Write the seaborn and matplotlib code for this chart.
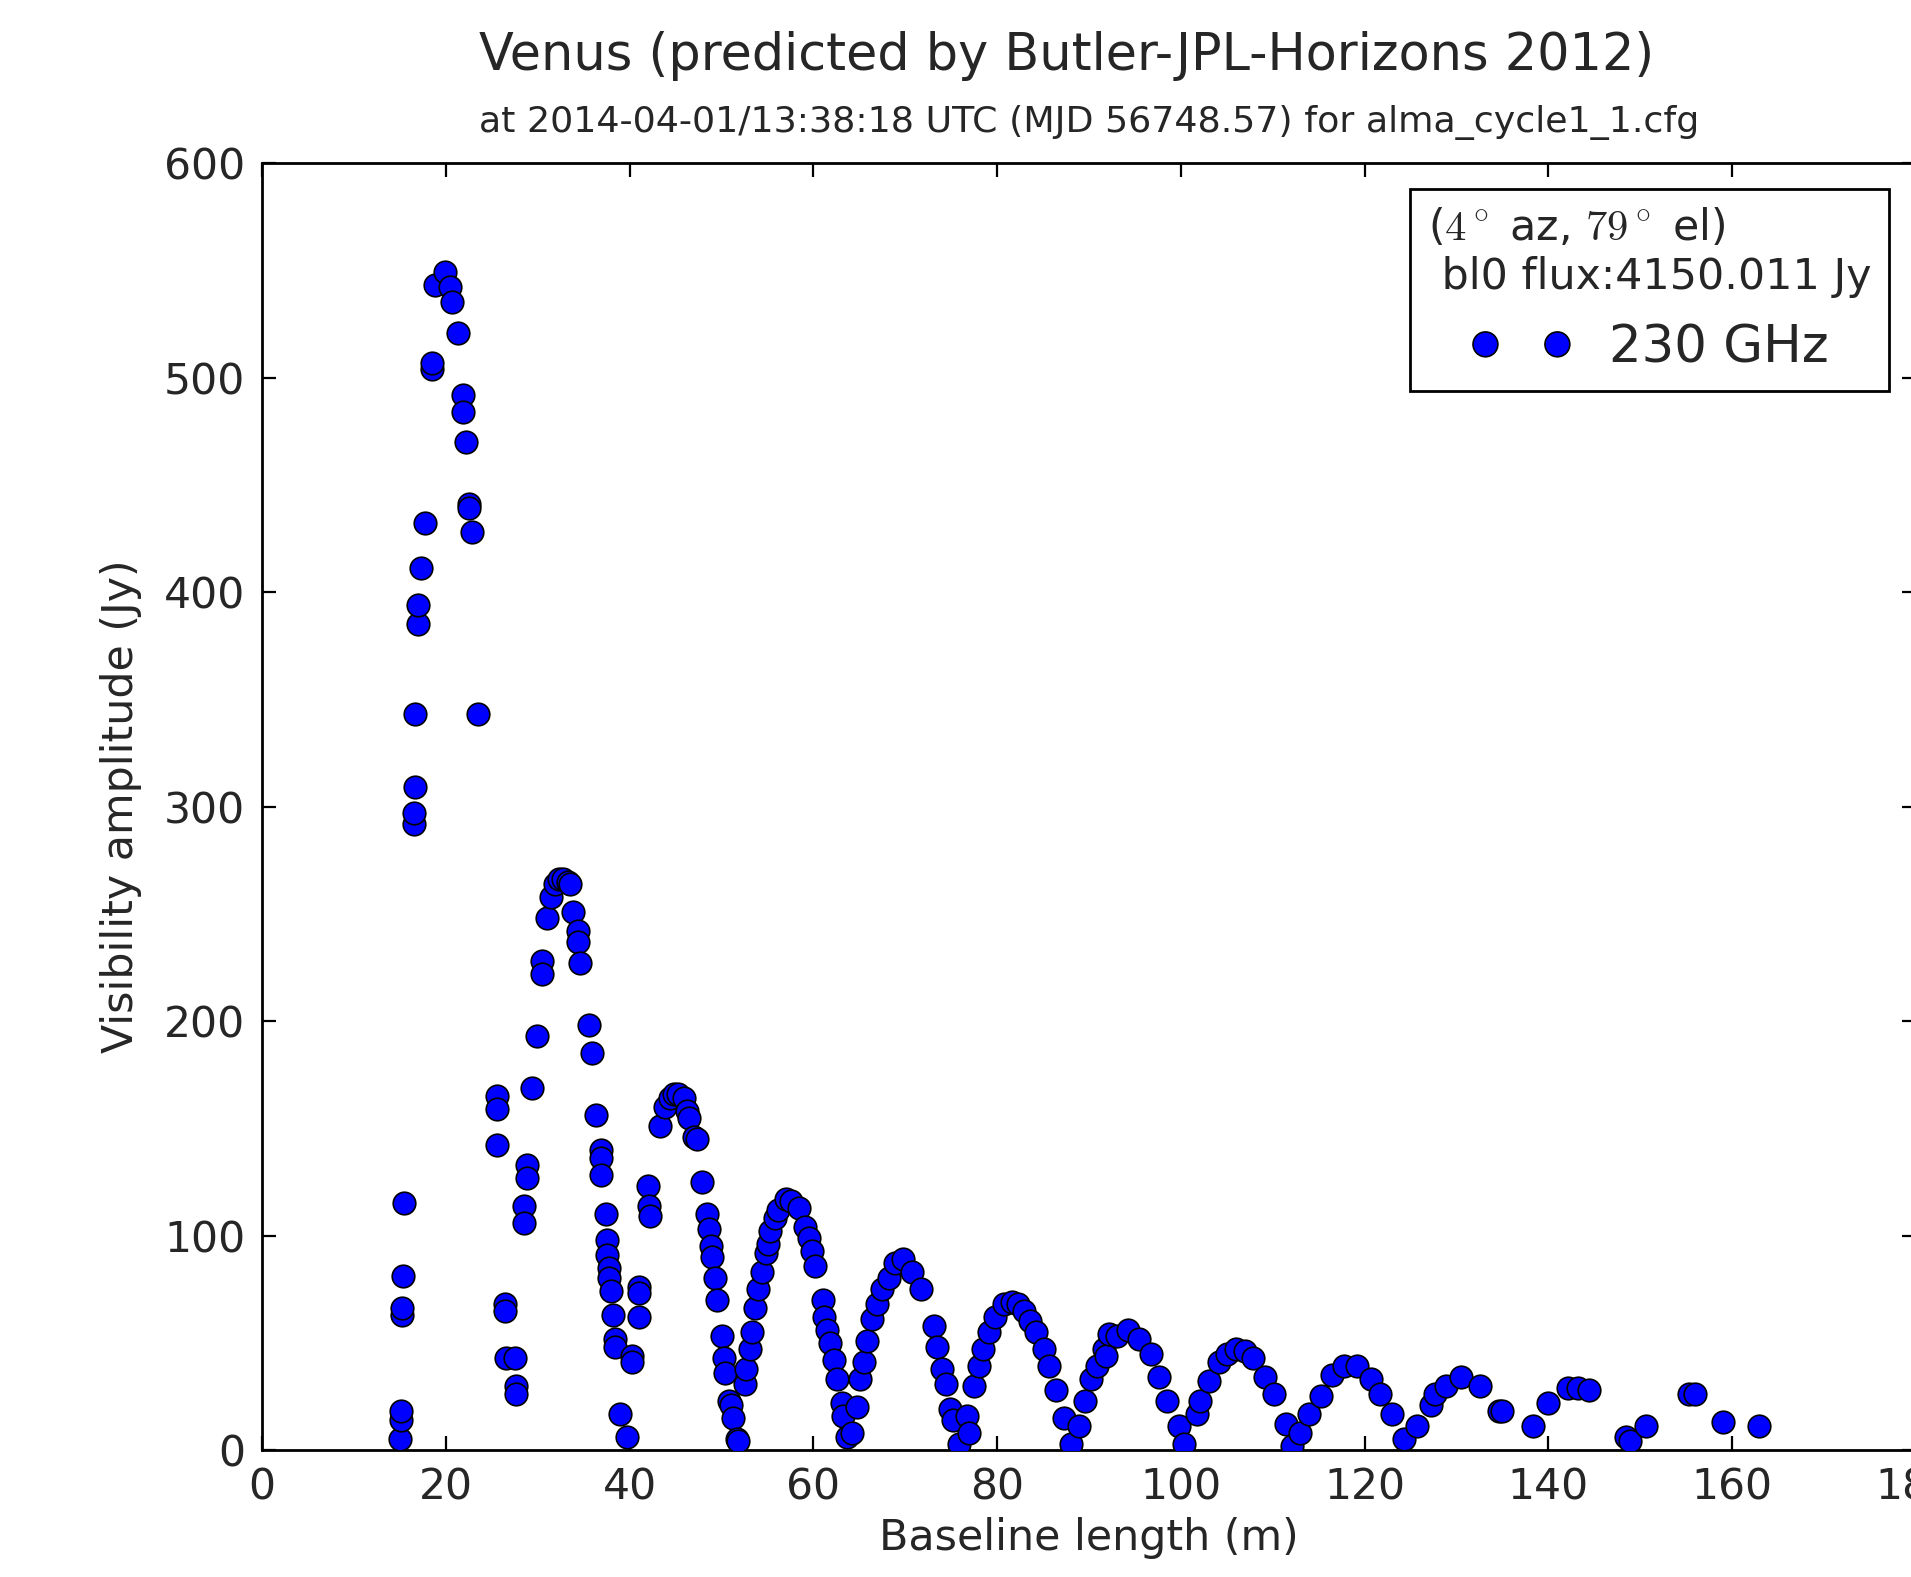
import numpy as np
import pandas as pd
import matplotlib
matplotlib.use("Agg")
import matplotlib.pyplot as plt
import seaborn as sns

# baseline length (m) and visibility amplitude (Jy)
baseline_m = [
    15.0, 15.1, 15.1, 15.2, 15.2, 15.3, 15.4,
    16.5, 16.5, 16.6, 16.7, 17.0, 17.0, 17.3, 17.7,
    18.5, 18.5, 18.8, 19.9, 20.5, 20.7, 21.3, 21.9, 21.9, 22.2, 22.5, 22.5, 22.8, 23.5,
    25.6, 25.6, 25.6, 26.5, 26.5, 26.6, 27.5, 27.6, 27.6,
    28.5, 28.5, 28.8, 28.8, 29.4, 29.9,
    30.5, 30.5, 31.0, 31.4, 31.9, 32.3, 32.8, 33.3, 33.5, 33.9, 34.4, 34.4, 34.6, 35.6, 35.9,
    36.4, 36.9, 36.9, 36.9, 37.4, 37.5, 37.6, 37.8, 37.8, 38.0, 38.2, 38.4, 38.4, 39.0, 39.7,
    40.3, 40.3, 41.0, 41.0, 41.0, 42.0, 42.1, 42.2,
    43.3, 43.9, 44.4, 44.8, 45.3, 45.9, 46.2, 46.5, 47.0, 47.3, 47.9, 48.4, 48.6, 48.9,
    49.0, 49.3, 49.5, 50.1, 50.3, 50.4, 50.8, 51.0, 51.3, 51.7, 51.8,
    52.6, 52.7, 53.1, 53.3, 53.7, 54.0, 54.4, 54.8, 55.1, 55.3, 55.8, 56.2, 57.0, 57.6,
    58.4, 59.1, 59.5, 59.9, 60.2,
    61.1, 61.2, 61.5, 61.8, 62.2, 62.6, 63.1, 63.2, 63.7,
    64.2, 64.8, 65.1, 65.5, 65.8, 66.4, 66.9, 67.5, 68.2, 68.9, 69.8, 70.7, 71.7,
    73.1, 73.5, 74.0, 74.4, 74.9, 75.2, 75.8,
    76.7, 76.9, 77.5, 78.0, 78.5, 79.1, 79.8, 80.7, 81.6, 82.3, 82.9, 83.6, 84.2, 85.1,
    85.6, 86.4, 87.3, 88.0,
    88.9, 89.6, 90.2, 90.9, 91.6, 91.8, 92.2, 93.1, 94.2, 95.4, 96.7, 97.6, 98.5, 99.8, 100.3,
    101.8, 102.1, 103.1, 104.1, 105.0, 106.0, 107.0, 107.9, 109.2, 110.1, 111.4, 112.1,
    113.0, 113.9, 115.2, 116.5, 117.8, 119.2, 120.7, 121.7, 123.0, 124.3,
    125.7,
    127.2, 127.7, 128.8, 130.5, 132.5, 134.6, 135.0,
    138.3, 139.9, 142.1, 143.2, 144.4, 148.4, 148.9, 150.6, 155.3, 155.9, 159.0, 162.9,
]
amplitude_jy = [
    5, 14, 18, 63, 66, 81, 115,
    292, 297, 309, 343, 385, 394, 411, 432,
    504, 507, 543, 549, 542, 535, 521, 492, 484, 470, 441, 439, 428, 343,
    165, 159, 142, 68, 65, 43, 43, 30, 26,
    114, 106, 133, 127, 169, 193,
    228, 222, 248, 258, 264, 266, 266, 265, 264, 251, 242, 237, 227, 198, 185,
    156, 140, 136, 128, 110, 98, 91, 85, 80, 74, 63, 52, 48, 17, 6,
    44, 41, 76, 73, 62, 123, 114, 109,
    151, 160, 164, 166, 166, 164, 158, 155, 146, 145, 125, 110, 103, 95,
    90, 80, 70, 53, 43, 36, 23, 21, 15, 5, 4,
    31, 38, 47, 55, 66, 75, 83, 92, 96, 102, 108, 112, 117, 116,
    113, 104, 99, 93, 86,
    70, 62, 56, 50, 42, 33, 22, 16, 6,
    8, 20, 33, 41, 51, 61, 68, 75, 80, 87, 89, 83, 75,
    58, 48, 38, 31, 19, 14, 3,
    16, 8, 30, 39, 47, 55, 62, 68, 69, 68, 65, 60, 55, 47,
    39, 28, 15, 3,
    11, 23, 33, 39, 47, 44, 54, 53, 56, 52, 45, 34, 23, 11, 3,
    17, 23, 32, 41, 45, 47, 46, 43, 34, 26, 12, 2,
    8, 17, 25, 35, 39, 39, 33, 26, 17, 5,
    11,
    21, 26, 30, 34, 30, 18, 18,
    11, 22, 29, 29, 28, 6, 4, 11, 26, 26, 13, 11,
]

title = "Venus (predicted by Butler-JPL-Horizons 2012)"
subtitle = "at 2014-04-01/13:38:18 UTC (MJD 56748.57) for alma_cycle1_1.cfg"
legend_title = "($4^\\circ$ az, $79^\\circ$ el)\n bl0 flux:4150.011 Jy"
series_label = "230 GHz"

df = pd.DataFrame({"baseline": baseline_m, "amp": amplitude_jy})

sns.set_style("ticks")
plt.rcParams["font.family"] = ["DejaVu Sans"]
plt.rcParams["mathtext.fontset"] = "cm"
plt.rcParams["xtick.direction"] = "in"
plt.rcParams["ytick.direction"] = "in"
plt.rcParams["xtick.top"] = True
plt.rcParams["ytick.right"] = True

fig = plt.figure(figsize=(9.555, 7.885), dpi=200)
ax = fig.add_axes([0.1371, 0.0805, 0.8655, 0.8161])

sns.scatterplot(data=df, x="baseline", y="amp", ax=ax, color="blue",
                edgecolor="black", linewidth=0.6, s=66, label=series_label,
                zorder=3)

ax.set_xlim(0, 180)
ax.set_ylim(0, 600)
ax.set_xticks(np.arange(0, 181, 20))
ax.set_yticks(np.arange(0, 601, 100))
ax.tick_params(axis="both", which="major", labelsize=15.3, length=5,
               width=0.8, color="black", pad=6)
for sp in ax.spines.values():
    sp.set_color("black")
    sp.set_linewidth(1.0)

ax.set_xlabel("Baseline length (m)", fontsize=15.4, labelpad=3)
ax.set_ylabel("Visibility amplitude (Jy)", fontsize=15.4, labelpad=8)

leg = ax.legend(loc="upper right", bbox_to_anchor=(0.9837, 0.9798),
                borderaxespad=0, scatterpoints=2, scatteryoffsets=[0.5],
                markerscale=1.1, fontsize=18.5,
                title=legend_title, title_fontsize=15.4, frameon=True,
                fancybox=False, edgecolor="black", framealpha=1,
                handlelength=2.0, handletextpad=0.7, borderpad=0.35)
leg.get_frame().set_linewidth(1.0)
leg.get_title().set_multialignment("left")

fig.text(0.5 * (0.1371 + 1.0027) - 0.012, 1 - 56 / 1577, title,
         ha="center", va="center", fontsize=18.3)
fig.text(0.5 * (0.1371 + 1.0027), 1 - 123 / 1577, subtitle,
         ha="center", va="center", fontsize=13.1)

fig.savefig("out.png", dpi=200)
plt.close(fig)
